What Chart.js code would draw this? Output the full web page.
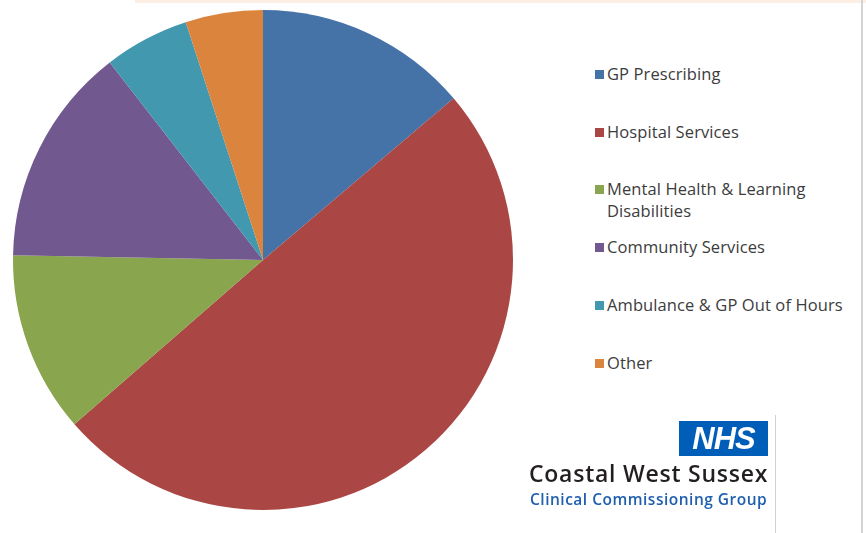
<!DOCTYPE html>
<html>
<head>
<meta charset="utf-8">
<script src="https://cdn.jsdelivr.net/npm/chart.js@4"></script>
<style>
  html, body { margin: 0; padding: 0; background: #fff; }
  body { width: 866px; height: 533px; position: relative; overflow: hidden; font-family: 'Open Sans', Lato, sans-serif; }
  #topbar { position: absolute; left: 135px; top: 0; width: 731px; height: 3px; background: #fdeee4; }
  #rightline { position: absolute; left: 861px; top: 0; width: 2px; height: 533px; background: #d4d4d4; }
  #pieBox { position: absolute; left: 0; top: 0; width: 526px; height: 520px; }
  #legend { position: absolute; left: 593px; top: 0; margin: 0; padding: 0; list-style: none; color: #3c3c3c; font-size: 16.5px; }
  #legend li { position: absolute; left: 0; width: 270px; line-height: 22px; padding-left: 14px; white-space: nowrap; letter-spacing: 0.1px; }
  #legend li span { position: absolute; left: 2px; top: 7px; width: 9px; height: 9px; }
  #logo { position: absolute; left: 520px; top: 415px; width: 255px; height: 118px; border-right: 1px solid #d0d0d0; }
  #nhs { position: absolute; left: 159px; top: 6px; width: 89px; height: 35px; background: #005eb8; color: #fff; font: italic 900 31px Arial, 'Liberation Sans', sans-serif; line-height: 36px; text-align: center; letter-spacing: -1px; }
  #cws { position: absolute; left: 9px; top: 42px; font: 600 23px 'Open Sans', sans-serif; color: #231f20; letter-spacing: 0.75px; white-space: nowrap; }
  #ccg { position: absolute; left: 10px; top: 73px; font: 600 15.5px 'Open Sans', sans-serif; color: #1f5fb0; letter-spacing: 0.5px; white-space: nowrap; }
</style>
</head>
<body>
<div id="topbar"></div>
<div id="rightline"></div>
<div id="pieBox"><canvas id="pie"></canvas></div>
<ul id="legend"></ul>
<div id="logo">
  <div id="nhs">NHS</div>
  <div id="cws">Coastal West Sussex</div>
  <div id="ccg">Clinical Commissioning Group</div>
</div>
<script>
const labels = ['GP Prescribing', 'Hospital Services', 'Mental Health & Learning Disabilities', 'Community Services', 'Ambulance & GP Out of Hours', 'Other'];
const legendLines = [['GP Prescribing'], ['Hospital Services'], ['Mental Health & Learning', 'Disabilities'], ['Community Services'], ['Ambulance & GP Out of Hours'], ['Other']];
const shares = [13.8, 49.8, 11.7, 14.2, 5.5, 5.0];
const colors = ['#4572a7', '#aa4643', '#89a54e', '#71588f', '#4198af', '#db843d'];
const legendTops = [63, 121, 178, 236, 294, 352];

new Chart(document.getElementById('pie'), {
  type: 'pie',
  data: { labels: labels, datasets: [{ data: shares, backgroundColor: colors, borderWidth: 0 }] },
  options: {
    responsive: true,
    maintainAspectRatio: false,
    animation: false,
    layout: { padding: 10 },
    plugins: { legend: { display: false }, tooltip: { enabled: false } }
  }
});

const ul = document.getElementById('legend');
legendLines.forEach((lines, i) => {
  const li = document.createElement('li');
  li.style.top = legendTops[i] + 'px';
  li.innerHTML = '<span style="background:' + colors[i] + '"></span>' + lines.join('<br>');
  ul.appendChild(li);
});
</script>
</body>
</html>
